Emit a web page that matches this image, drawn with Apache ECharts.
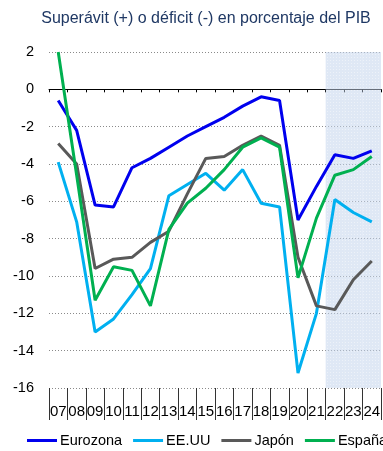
<!DOCTYPE html>
<html>
<head>
<meta charset="utf-8">
<script src="https://cdn.jsdelivr.net/npm/echarts@6/dist/echarts.min.js"></script>
<style>
  html, body { margin: 0; padding: 0; background: #fff; }
  #chart { width: 383px; height: 451px; }
</style>
</head>
<body>
<div id="chart"></div>
<script>
// Saldo presupuestario (% del PIB), 2007-2024
const years = ['07','08','09','10','11','12','13','14','15','16','17','18','19','20','21','22','23','24'];
const eurozona = [-0.6, -2.2, -6.2, -6.3, -4.2, -3.7, -3.1, -2.5, -2.0, -1.5, -0.9, -0.4, -0.6, -7.0, -5.2, -3.5, -3.7, -3.3];
const eeuu     = [-3.9, -7.1, -13.0, -12.3, -11.0, -9.6, -5.7, -5.1, -4.5, -5.4, -4.3, -6.1, -6.3, -15.2, -12.0, -5.9, -6.6, -7.1];
const japon    = [-2.9, -4.0, -9.6, -9.1, -9.0, -8.2, -7.6, -5.6, -3.7, -3.6, -3.0, -2.5, -3.0, -9.0, -11.6, -11.8, -10.2, -9.2];
const espana   = [2.0, -4.6, -11.3, -9.5, -9.7, -11.6, -7.5, -6.1, -5.3, -4.3, -3.1, -2.6, -3.1, -10.1, -6.9, -4.6, -4.3, -3.6];
const yTicks = { min: -16, max: 2, step: 2 };
const forecastFrom = '22';

const seriesNames = ['Eurozona', 'EE.UU', 'Japón', 'España'];
const seriesColors = ['#0000ee', '#00b0f0', '#595959', '#00b050'];
const seriesData = [eurozona, eeuu, japon, espana];

// shaded band for the forecast years, spanning the full value range
const fIdx = years.indexOf(forecastFrom);
const bandTop = years.map((y, i) => i >= fIdx ? yTicks.max : '-');
const bandBottom = years.map((y, i) => i >= fIdx ? yTicks.min : '-');

const chart = echarts.init(document.getElementById('chart'), null, { renderer: 'canvas' });

const lineSeries = seriesNames.map((name, k) => ({
  name: name,
  type: 'line',
  xAxisIndex: 0,
  data: seriesData[k],
  symbol: 'none',
  lineStyle: { color: seriesColors[k], width: 3 },
  itemStyle: { color: seriesColors[k] },
  z: 3 + k
}));

const bandStyle = {
  color: 'rgba(196,213,236,0.55)',
  decal: {
    symbol: 'rect',
    symbolSize: 1,
    color: 'rgba(255,255,255,0.45)',
    dashArrayX: [1, 2],
    dashArrayY: [1, 2],
    rotation: 0
  }
};

chart.setOption({
  animation: false,
  title: {
    text: 'Superávit (+) o déficit (-) en porcentaje del PIB',
    left: 201,
    textAlign: 'center',
    top: 6,
    textStyle: { fontFamily: 'Liberation Sans', fontSize: 16, fontWeight: 'normal', color: '#1f3864' }
  },
  legend: {
    data: seriesNames,
    left: 27,
    top: 433,
    padding: 0,
    width: 600,
    icon: 'rect',
    itemWidth: 30,
    itemHeight: 3,
    itemGap: 11,
    textStyle: { fontFamily: 'Liberation Sans', fontSize: 14.5, color: '#000', padding: [0, 0, 0, -2] }
  },
  grid: { left: 49, top: 52, width: 336, height: 336, containLabel: false },
  xAxis: [
    {
      type: 'category',
      data: years,
      position: 'bottom',
      axisLine: { onZero: true, lineStyle: { color: '#000', width: 1 } },
      axisTick: { show: true, interval: 0, length: 3, lineStyle: { color: '#000' } },
      axisLabel: { show: false },
      splitLine: { show: false }
    },
    {
      type: 'category',
      data: years,
      position: 'bottom',
      axisLine: { show: false, onZero: false },
      axisTick: { show: true, interval: 0, length: 32, lineStyle: { color: '#333' } },
      axisLabel: { interval: 0, fontFamily: 'Liberation Sans', fontSize: 15, color: '#000', margin: 16 },
      splitLine: { show: false }
    }
  ],
  yAxis: {
    type: 'value',
    min: yTicks.min,
    max: yTicks.max,
    interval: yTicks.step,
    axisLine: { show: false },
    axisTick: { show: false },
    axisLabel: { fontFamily: 'Liberation Sans', fontSize: 14.5, color: '#000', margin: 15 },
    splitLine: { lineStyle: { color: '#8a8a8a', type: [1, 2], width: 1 } }
  },
  series: [
    {
      name: 'band-top', type: 'bar', stack: 'band', data: bandTop, xAxisIndex: 0,
      barWidth: '100%', barGap: '-100%', silent: true, itemStyle: bandStyle, z: 1
    },
    {
      name: 'band-bottom', type: 'bar', stack: 'band', data: bandBottom, xAxisIndex: 0,
      barWidth: '100%', barGap: '-100%', silent: true, itemStyle: bandStyle, z: 1
    }
  ].concat(lineSeries)
});
</script>
</body>
</html>
